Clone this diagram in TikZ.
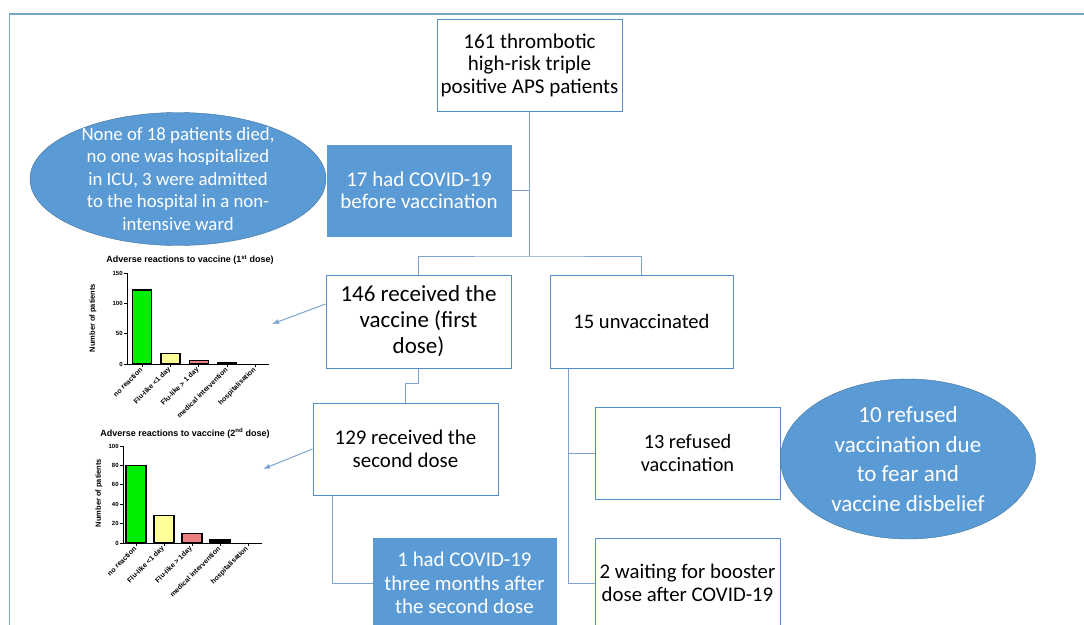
\documentclass[tikz,border=0pt]{standalone}
\usepackage{fontspec}
\setmainfont{Carlito}
\newfontfamily\chartfont{Liberation Sans}
\usetikzlibrary{positioning,shapes.geometric,arrows.meta}
\definecolor{fillblue}{RGB}{91,155,213}
\definecolor{edgeblue}{RGB}{65,113,156}
\definecolor{boxline}{RGB}{84,141,196}
\definecolor{linkblue}{RGB}{125,163,204}
\definecolor{framecol}{RGB}{120,168,200}
\definecolor{barA}{RGB}{0,238,0}
\definecolor{barB}{RGB}{255,255,153}
\definecolor{barC}{RGB}{236,128,128}
\tikzset{
  whitebox/.style={draw=boxline,line width=1pt,fill=white,align=center,inner sep=0pt},
  bluebox/.style={draw=fillblue,fill=fillblue,text=white,align=center,inner sep=0pt},
  blueoval/.style={ellipse,draw=edgeblue,fill=fillblue,inner sep=0pt},
  ovaltext/.style={text=white,align=center,inner sep=0pt},
  link/.style={draw=linkblue,line width=1pt},
  pointer/.style={draw=linkblue,line width=1pt,-{Latex[length=7pt,width=5pt]}},
  bar/.style={draw=black,line width=1.2pt},
  charttitle/.style={font=\chartfont\bfseries\fontsize{9}{10}\selectfont,inner sep=0pt},
  axislbl/.style={font=\chartfont\bfseries\fontsize{7.5}{9}\selectfont,rotate=90,inner sep=0pt},
  ticklbl/.style={font=\chartfont\bfseries\fontsize{7}{8}\selectfont,rotate=45,anchor=east,inner sep=1pt},
  ylbl/.style={font=\chartfont\bfseries\fontsize{6}{7}\selectfont,anchor=east,inner sep=1pt}
}

\begin{document}
\begin{tikzpicture}[x=1pt,y=-1pt]
    \clip (0,0) rectangle (1084,624);
    \fill[white] (0,0) rectangle (1084,624);
    \draw[framecol,line width=1.5pt] (9.5,630) -- (9.5,14) -- (1090,14);

    % flow chart boxes
    \node[whitebox,minimum width=185,minimum height=92,font=\fontsize{21}{22.5}\selectfont] (all) at (529.5,65) {161 thrombotic\\high-risk triple\\positive APS patients};
    \node[bluebox,minimum width=184,minimum height=91,font=\fontsize{21}{22}\selectfont] (covid) at (419,190.5) {17 had COVID-19\\before vaccination};
    \node[blueoval,minimum width=296,minimum height=133] (died) at (178,179) {};
    \node[ovaltext,font=\fontsize{18.8}{22.5}\selectfont] (diedtxt) at (died.center) {None of 18 patients died,\\no one was hospitalized\\in ICU, 3 were admitted\\to the hospital in a non-\\intensive ward};
    \node[whitebox,minimum width=185,minimum height=93,font=\fontsize{23}{26}\selectfont] (first) at (418.5,321.5) {146 received the\\vaccine (first\\dose)};
    \node[whitebox,minimum width=183,minimum height=93,font=\fontsize{20.6}{24}\selectfont] (unvac) at (641.5,321.5) {15 unvaccinated};
    \node[whitebox,minimum width=185,minimum height=92,font=\fontsize{20.9}{23}\selectfont] (second) at (405.5,449) {129 received the\\second dose};
    \node[bluebox,minimum width=183,minimum height=90,font=\fontsize{20.9}{23.5}\selectfont] (later) at (464.5,583) {1 had COVID-19\\three months after\\the second dose};
    \node[whitebox,minimum width=185,minimum height=92,font=\fontsize{20.3}{23}\selectfont] (refused) at (687.5,453) {13 refused\\vaccination};
    \node[whitebox,minimum width=185,minimum height=90,font=\fontsize{20.8}{22.5}\selectfont] (waiting) at (687.5,583) {2 waiting for booster\\dose after COVID-19};
    \node[blueoval,minimum width=255,minimum height=160] (fear) at (908,459) {};
    \node[ovaltext,font=\fontsize{23}{29.5}\selectfont] (feartxt) at (fear.center) {10 refused\\vaccination due\\to fear and\\vaccine disbelief};

    % connectors
    \coordinate (split) at (529.5,256);
    \draw[link] (all.south) -- (split);
    \draw[link] (covid.east) -- (covid.east -| split);
    \draw[link] (first.north) |- (split) -| (unvac.north);
    \draw[link] (first.south) -- ++(0,15) -| (second.north);
    \draw[link] ([xshift=-73.5pt]second.south) |- (later.west);
    \draw[link] ([xshift=-73.5pt]unvac.south) |- (waiting.west);
    \draw[link] (refused.west) -- (refused.west -| 568,0);

    % chart for the first dose
    \node[charttitle] (titleA) at (190,260) {Adverse reactions to vaccine (1\textsuperscript{st} dose)};
    \node[axislbl] (yA) at (93,318) {Number of patients};
    \draw[line width=1pt] (127,273) -- (127,364) -- (269,364);
    \foreach \v in {0,50,100,150}
      \draw[line width=0.8pt] (124,364-\v*0.607) -- (127,364-\v*0.607) node[ylbl,at start] (yA\v) {\v};
    \foreach \v/\c [count=\i] in {122/barA,17/barB,6/barC,2/black}
      \draw[bar,fill=\c] (132.5+\i*28.4-28.4,364) rectangle (151.5+\i*28.4-28.4,364-\v*0.607);
    \foreach \t [count=\i] in {no reaction,Flu-like <1 day,Flu-like > 1 day,medical intervention,hospitalisation}{
      \draw[line width=0.8pt] (142+\i*28.4-28.4,364) -- (142+\i*28.4-28.4,367);
      \node[ticklbl] (xA\i) at (142+\i*28.4-28.4,368) {\t};
    }
    \coordinate (chartA) at (272,324);

    % chart for the second dose
    \node[charttitle] (titleB) at (185,433) {Adverse reactions to vaccine (2\textsuperscript{nd} dose)};
    \node[axislbl] (yB) at (99,493) {Number of patients};
    \draw[line width=1pt] (123,446) -- (123,543) -- (262,543);
    \foreach \v in {0,20,...,100}
      \draw[line width=0.8pt] (120,543-\v*0.97) -- (123,543-\v*0.97) node[ylbl,at start] (yB\v) {\v};
    \foreach \v/\c [count=\i] in {80/barA,28/barB,10/barC,3/black}
      \draw[bar,fill=\c] (126+\i*28-28,543) rectangle (146+\i*28-28,543-\v*0.97);
    \foreach \t [count=\i] in {no reaction,Flu-like <1 day,Flu-like > 1day,medical intervention,hospitalisation}{
      \draw[line width=0.8pt] (136+\i*28-28,543) -- (136+\i*28-28,546);
      \node[ticklbl] (xB\i) at (136+\i*28-28,547) {\t};
    }
    \coordinate (chartB) at (263,469);

    % arrows to the charts
    \draw[pointer] ([yshift=17.5pt]first.west) -- (chartA);
    \draw[pointer] (second.west) -- (chartB);
\end{tikzpicture}
\end{document}
